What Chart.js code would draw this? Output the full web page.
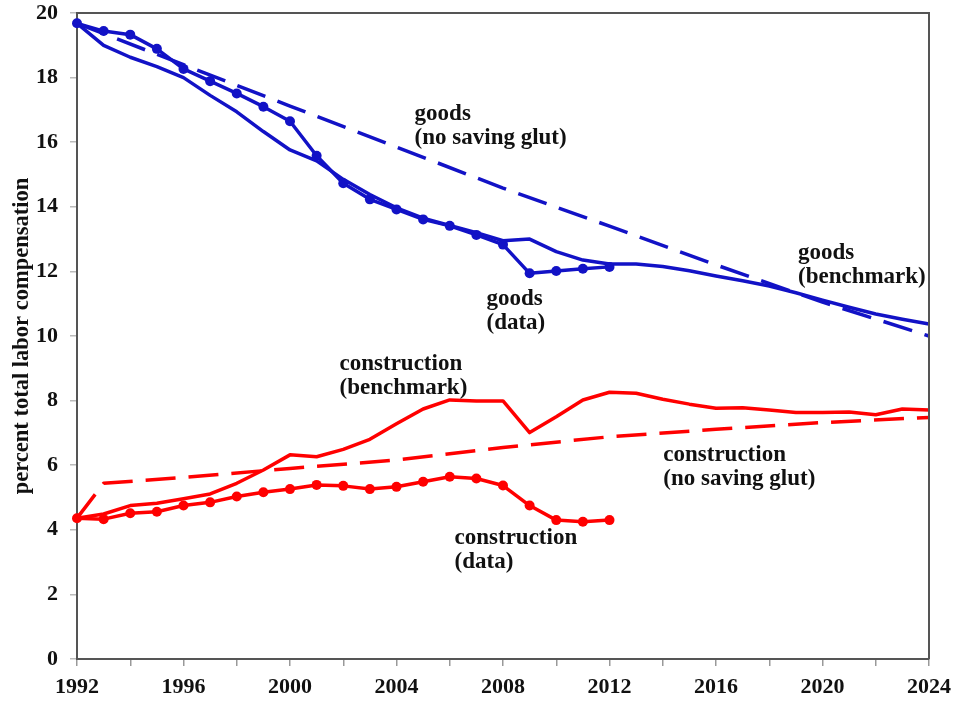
<!DOCTYPE html>
<html>
<head>
<meta charset="utf-8">
<script src="https://cdn.jsdelivr.net/npm/chart.js@4.4.1/dist/chart.umd.min.js"></script>
<style>
html,body{margin:0;padding:0;background:#fff;}
#c{display:block;}
</style>
</head>
<body>
<canvas id="c" width="959" height="705"></canvas>
<script>
// ---- data ----
const dataYears = [1992,1993,1994,1995,1996,1997,1998,1999,2000,2001,2002,2003,2004,2005,2006,2007,2008,2009,2010,2011,2012];
const benchYears = [1992,1993,1994,1995,1996,1997,1998,1999,2000,2001,2002,2003,2004,2005,2006,2007,2008,2009,2010,2011,2012,2013,2014,2015,2016,2017,2018,2019,2020,2021,2022,2023,2024];

const goodsData = [19.68,19.44,19.33,18.89,18.27,17.89,17.51,17.10,16.65,15.58,14.73,14.23,13.92,13.61,13.41,13.13,12.83,11.94,12.01,12.08,12.14];
const goodsBench = [19.68,19.0,18.63,18.34,18.0,17.45,16.94,16.33,15.76,15.42,14.85,14.38,13.97,13.65,13.42,13.2,12.95,13.0,12.61,12.35,12.23,12.23,12.15,12.02,11.86,11.71,11.55,11.34,11.11,10.89,10.68,10.52,10.37];
const goodsNSGYears = [1992,1996,2000,2004,2008,2012,2016,2020,2024];
const goodsNSG = [19.68,18.4,17.12,15.85,14.58,13.4,12.2,11.05,10.0];

const constData = [4.36,4.33,4.51,4.56,4.75,4.85,5.03,5.16,5.26,5.39,5.36,5.26,5.33,5.49,5.64,5.59,5.37,4.75,4.30,4.25,4.30];
const constBench = [4.36,4.49,4.75,4.82,4.96,5.11,5.44,5.85,6.32,6.26,6.49,6.80,7.28,7.74,8.02,7.99,7.99,7.01,7.50,8.02,8.26,8.23,8.04,7.89,7.76,7.78,7.71,7.63,7.63,7.65,7.56,7.74,7.71];
const constNSGYears = [1992,1993,1996,2000,2004,2008,2012,2016,2020,2024];
const constNSG = [4.36,5.44,5.62,5.9,6.16,6.55,6.88,7.11,7.32,7.48];

const yTicks = [0,2,4,6,8,10,12,14,16,18,20];
const xLabelYears = [1992,1996,2000,2004,2008,2012,2016,2020,2024];

const labelTexts = [
  ["goods","(no saving glut)"],
  ["goods","(data)"],
  ["goods","(benchmark)"],
  ["construction","(benchmark)"],
  ["construction","(no saving glut)"],
  ["construction","(data)"]
];
const labelYears = [2004.68, 2007.38, 2019.08, 2001.86, 2014.02, 2006.18];
const labelValues = [16.69, 10.96, 12.38, 8.95, 6.13, 3.56];

// ---- styling ----
const BLUE = '#1212C6';
const RED = '#FF0000';
const SERIF = '"Liberation Serif", "Times New Roman", serif';

function pts(xs, ys){ return xs.map((x,i)=>({x:x, y:ys[i]})); }

const frame = {
  id:'frame',
  afterDraw(chart){
    const {ctx, chartArea:a} = chart;
    ctx.save();
    ctx.strokeStyle = '#555';
    ctx.lineWidth = 2;
    ctx.beginPath();
    ctx.moveTo(a.left, a.top);
    ctx.lineTo(a.right, a.top);
    ctx.lineTo(a.right, a.bottom);
    ctx.stroke();
    ctx.restore();
  }
};

const notes = {
  id:'notes',
  afterDatasetsDraw(chart){
    const {ctx, scales} = chart;
    ctx.save();
    ctx.fillStyle = '#111';
    ctx.font = 'bold 23px ' + SERIF;
    ctx.textAlign = 'left';
    ctx.textBaseline = 'alphabetic';
    labelTexts.forEach((lines, i) => {
      const px = scales.x.getPixelForValue(labelYears[i]);
      const py = scales.y.getPixelForValue(labelValues[i]);
      lines.forEach((t, j) => ctx.fillText(t, px, py + j*24));
    });
    ctx.restore();
  }
};

const common = { fill:false, tension:0, clip:false, borderWidth:3.5, pointHoverRadius:0, borderJoinStyle:'round' };

new Chart(document.getElementById('c'), {
  type:'line',
  data:{
    datasets:[
      Object.assign({}, common, {label:'goods (no saving glut)', data:pts(goodsNSGYears, goodsNSG), borderColor:BLUE, borderDash:[30,13], pointRadius:0}),
      Object.assign({}, common, {label:'goods (benchmark)', data:pts(benchYears, goodsBench), borderColor:BLUE, pointRadius:0}),
      Object.assign({}, common, {label:'goods (data)', data:pts(dataYears, goodsData), borderColor:BLUE, backgroundColor:BLUE, pointRadius:5, pointBorderWidth:0}),
      Object.assign({}, common, {label:'construction (no saving glut)', data:pts(constNSGYears, constNSG), borderColor:RED, borderDash:[30,13], pointRadius:0}),
      Object.assign({}, common, {label:'construction (benchmark)', data:pts(benchYears, constBench), borderColor:RED, pointRadius:0}),
      Object.assign({}, common, {label:'construction (data)', data:pts(dataYears, constData), borderColor:RED, backgroundColor:RED, pointRadius:5, pointBorderWidth:0})
    ]
  },
  options:{
    responsive:false,
    animation:false,
    devicePixelRatio:1,
    events:[],
    layout:{ padding:{ top:0, right:29, left:0, bottom:0 } },
    plugins:{ legend:{display:false}, tooltip:{enabled:false} },
    scales:{
      x:{
        type:'linear',
        min:1992, max:2024,
        afterFit(s){ s.height = 46; },
        afterBuildTicks(s){
          const t = [];
          for (let v = 1992; v <= 2024; v += 2) t.push({value:v});
          s.ticks = t;
        },
        ticks:{
          autoSkip:false, maxRotation:0, padding:8,
          color:'#111',
          font:{ family:SERIF, size:22, weight:'bold' },
          callback:(v)=> xLabelYears.includes(v) ? String(v) : ''
        },
        grid:{ drawOnChartArea:false, drawTicks:true, tickLength:7, color:'#999', lineWidth:1.5 },
        border:{ display:true, color:'#555', width:2 }
      },
      y:{
        type:'linear',
        min:0, max:20,
        afterFit(s){ s.width = 77; s.paddingTop = 13; s.paddingBottom = 0; },
        afterBuildTicks(s){ s.ticks = yTicks.map(v=>({value:v})); },
        ticks:{
          padding:12,
          color:'#111',
          font:{ family:SERIF, size:22, weight:'bold' },
          callback:(v)=> String(v)
        },
        grid:{ drawOnChartArea:false, drawTicks:true, tickLength:7, color:'#bbb', lineWidth:1.5 },
        border:{ display:true, color:'#555', width:2 },
        title:{
          display:true,
          text:'percent total labor compensation',
          color:'#111',
          font:{ family:SERIF, size:22.5, weight:'bold' },
          padding:{ top:9, bottom:0 }
        }
      }
    }
  },
  plugins:[frame, notes]
});
</script>
</body>
</html>
